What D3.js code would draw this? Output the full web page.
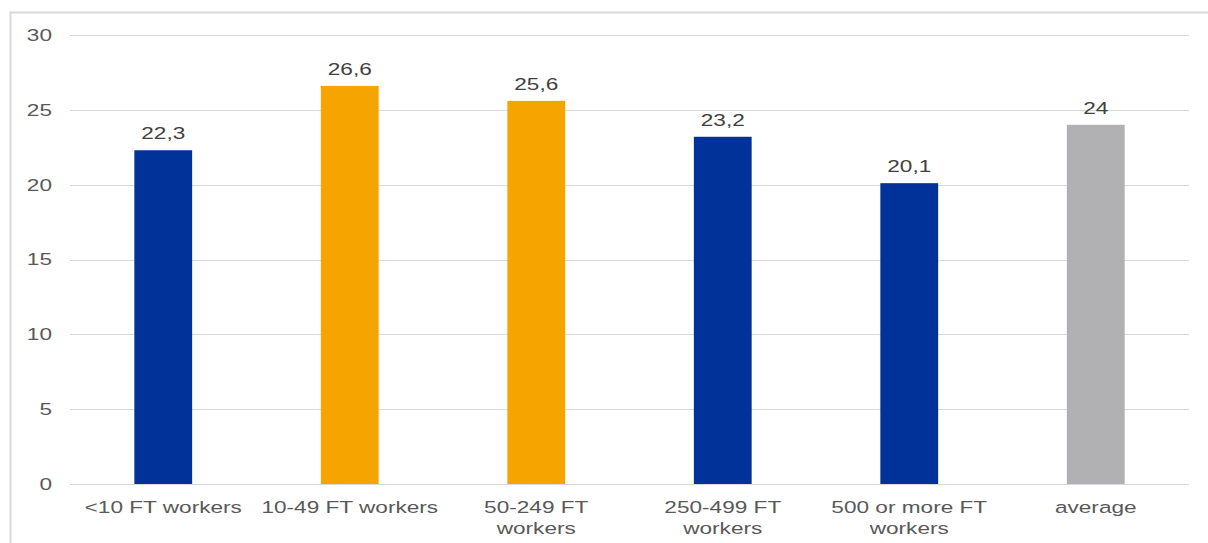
<!DOCTYPE html>
<meta charset="utf-8">
<style>
    html, body { margin: 0; padding: 0; background: #fff; }
    text { font-family: "Liberation Sans", Arial, sans-serif; }
</style>
<script src="https://d3js.org/d3.v7.min.js"></script>
<div id="chart"></div>
<script>
    // data
    const categories = ["<10 FT workers", "10-49 FT workers", "50-249 FT\nworkers", "250-499 FT\nworkers", "500 or more FT\nworkers", "average"];
    const values = [22.3, 26.6, 25.6, 23.2, 20.1, 24];
    const barColors = ["#003299", "#f6a500", "#f6a500", "#003299", "#003299", "#b1b1b3"];
    const yTicks = [0, 5, 10, 15, 20, 25, 30];

    const W = 1208, H = 543;
    const plot = {left: 70, right: 1189, top: 35, bottom: 484};
    const stretch = 1.33; // text in the picture is widened

    const svg = d3.select("#chart").append("svg")
        .attr("width", W).attr("height", H);

    // outer frame
    svg.append("rect")
        .attr("x", 10.5).attr("y", 12.5)
        .attr("width", W + 10).attr("height", H + 10)
        .attr("fill", "none").attr("stroke", "#d9d9d9").attr("stroke-width", 2);

    const x = d3.scaleBand().domain(categories).range([plot.left, plot.right]).padding(0);
    const y = d3.scaleLinear().domain([0, 30]).range([plot.bottom, plot.top]);
    const barW = x.bandwidth() * 0.31;

    // gridlines
    svg.append("g").selectAll("line")
      .data(yTicks)
      .join("line")
        .attr("x1", plot.left).attr("x2", plot.right)
        .attr("y1", d => Math.round(y(d)) + 0.5).attr("y2", d => Math.round(y(d)) + 0.5)
        .attr("stroke", "#d9d9d9").attr("stroke-width", 1);

    // y tick labels
    svg.append("g").selectAll("text")
      .data(yTicks)
      .join("text")
        .attr("transform", d => `translate(52,${y(d)}) scale(${stretch},1)`)
        .attr("text-anchor", "end")
        .attr("dy", "0.35em")
        .attr("font-size", 17)
        .attr("fill", "#595959")
        .text(d => d);

    // bars
    svg.append("g").selectAll("rect")
      .data(values)
      .join("rect")
        .attr("x", (d, i) => x(categories[i]) + (x.bandwidth() - barW) / 2)
        .attr("y", d => y(d))
        .attr("width", barW)
        .attr("height", d => y(0) - y(d))
        .attr("fill", (d, i) => barColors[i]);

    // value labels
    svg.append("g").selectAll("text")
      .data(values)
      .join("text")
        .attr("transform", (d, i) => `translate(${x(categories[i]) + x.bandwidth() / 2},${y(d) - 11}) scale(${stretch},1)`)
        .attr("text-anchor", "middle")
        .attr("font-size", 17)
        .attr("fill", "#404040")
        .text(d => String(d).replace(".", ","));

    // category labels
    const cat = svg.append("g").selectAll("text")
      .data(categories)
      .join("text")
        .attr("transform", d => `translate(${x(d) + x.bandwidth() / 2},513) scale(${stretch},1)`)
        .attr("text-anchor", "middle")
        .attr("font-size", 17)
        .attr("fill", "#595959");
    cat.selectAll("tspan")
      .data(d => d.split("\n"))
      .join("tspan")
        .attr("x", 0)
        .attr("dy", (d, i) => i === 0 ? 0 : 21)
        .text(d => d);
</script>
